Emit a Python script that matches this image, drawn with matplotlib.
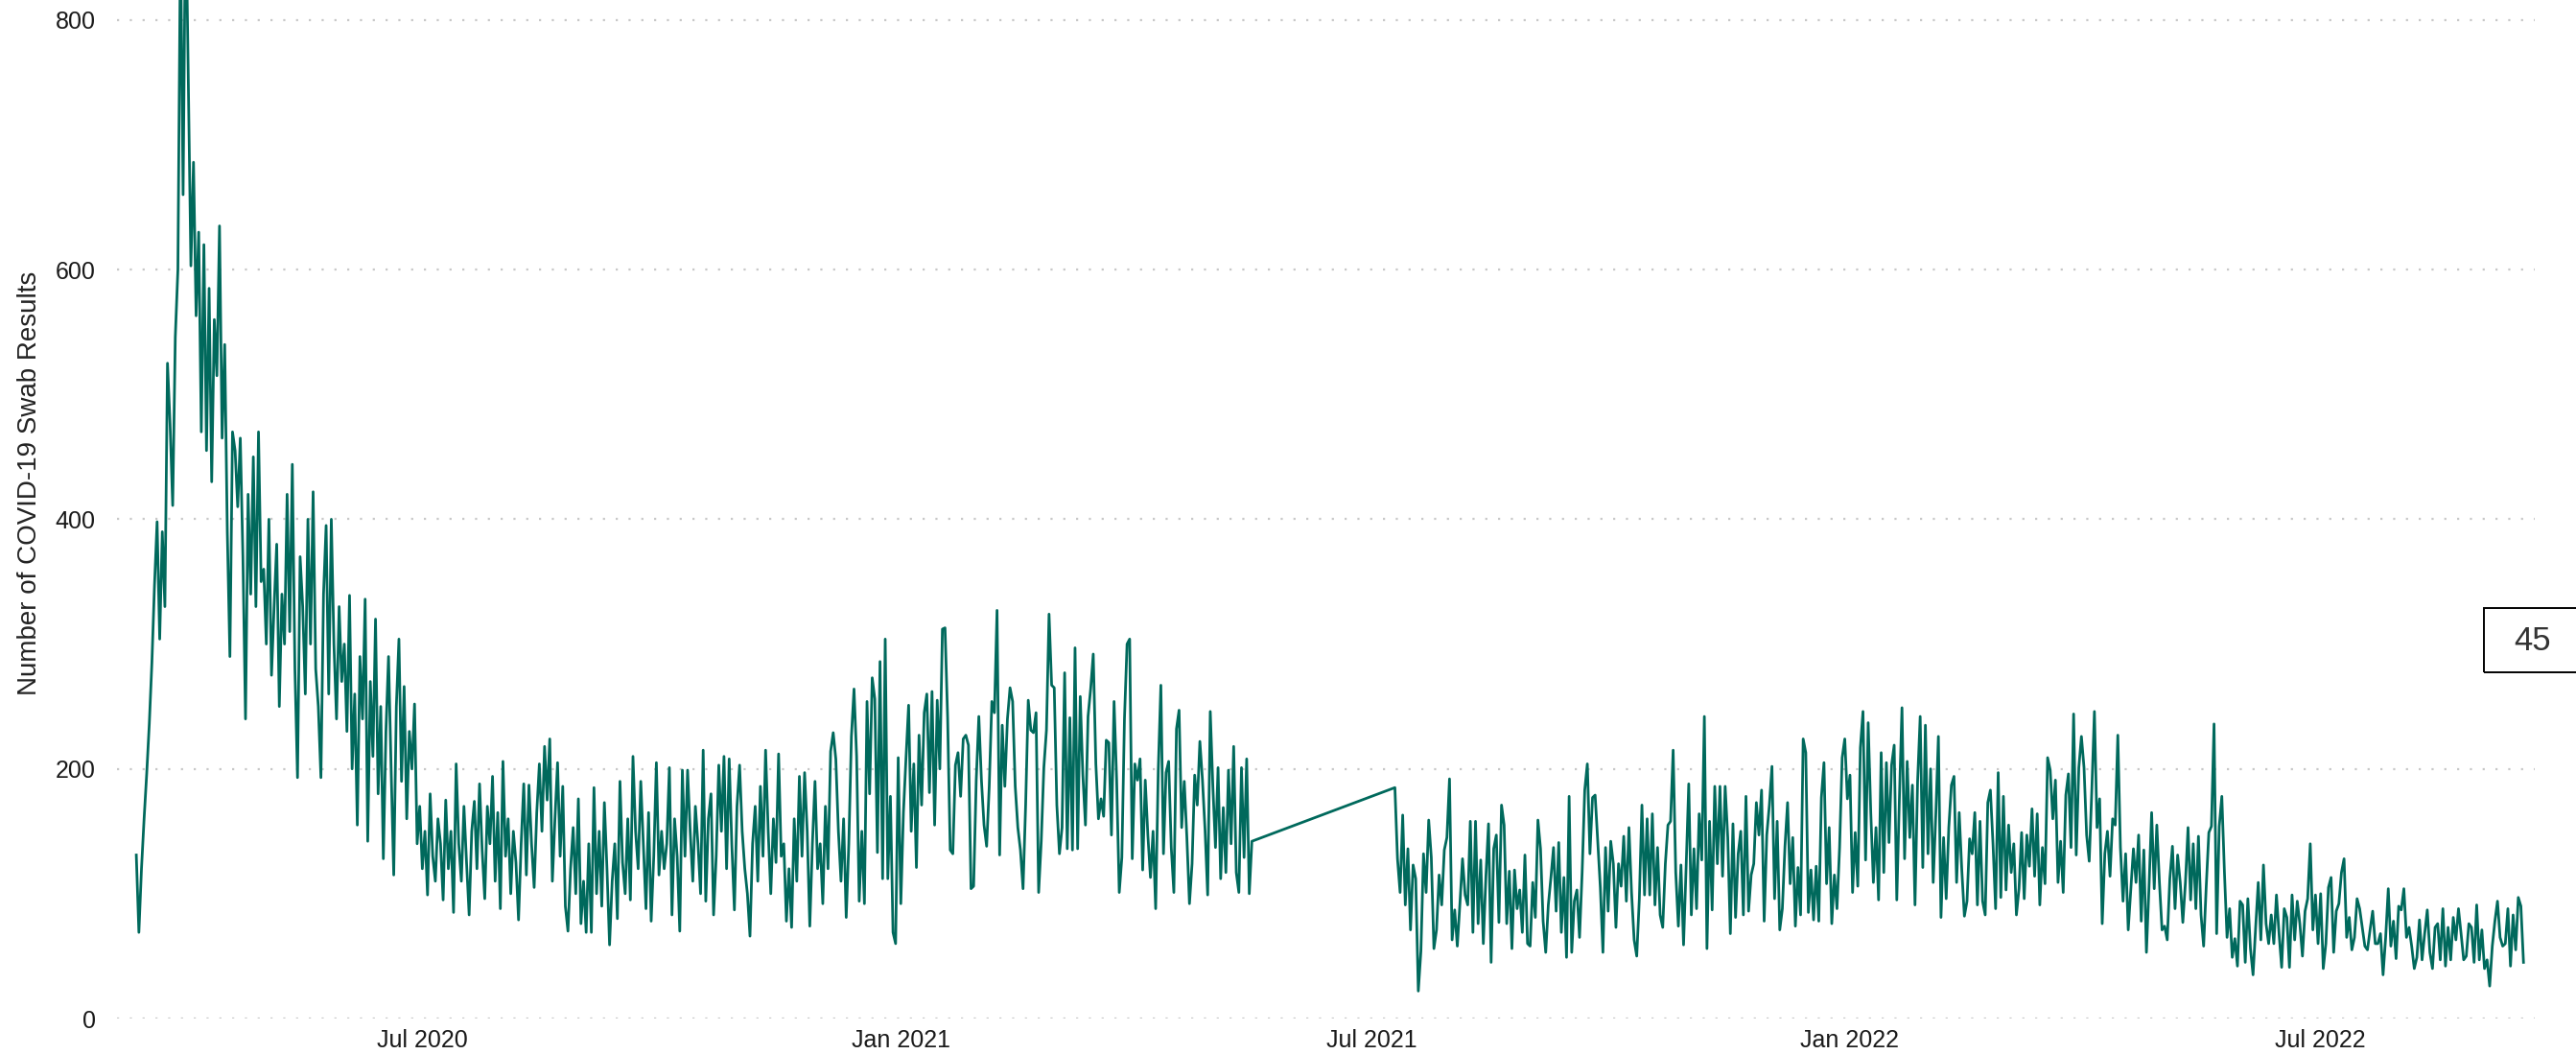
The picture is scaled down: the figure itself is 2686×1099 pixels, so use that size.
import matplotlib
matplotlib.use("Agg")
import matplotlib.pyplot as plt
import matplotlib.dates as mdates
from matplotlib.patches import Rectangle
import pandas as pd

# daily swab results, first run: 13 Mar 2020 - 16 May 2021
mar20 = [131, 69, 120, 160, 196, 236, 285, 347, 398, 304, 390, 330, 525, 476, 411, 546, 600, 870, 660]
apr20 = [900, 754, 603, 686, 563, 630, 470, 620, 455, 585, 430, 560, 515, 635, 465,
         540, 390, 290, 470, 455, 410, 465, 370, 240, 420, 340, 450, 330, 470, 350]
may20 = [360, 300, 400, 275, 330, 380, 250, 340, 300, 420, 310, 444, 280, 193, 370, 330,
         260, 400, 300, 422, 280, 250, 193, 340, 395, 260, 400, 300, 240, 330, 270]
jun20 = [300, 230, 339, 200, 260, 155, 290, 240, 336, 142, 270, 210, 320, 180, 250,
         128, 230, 290, 200, 115, 250, 304, 190, 266, 160, 230, 200, 252, 140, 170]
jul20 = [120, 150, 99, 180, 130, 110, 160, 140, 95, 175, 120, 150, 85, 204, 140, 110,
         170, 125, 83, 150, 174, 120, 188, 135, 96, 170, 140, 194, 110, 165, 88]
aug20 = [206, 130, 160, 100, 150, 125, 79, 140, 188, 115, 187, 140, 105, 165, 204, 150,
         218, 175, 224, 110, 160, 205, 130, 186, 90, 70, 120, 153, 100, 176, 76]
sep20 = [110, 69, 140, 69, 185, 100, 150, 90, 173, 120, 59, 110, 140, 80, 190,
         125, 100, 160, 95, 210, 150, 120, 190, 140, 88, 165, 78, 130, 205, 115]
oct20 = [150, 120, 140, 201, 83, 160, 130, 70, 199, 130, 199, 150, 110, 170, 140, 100,
         215, 94, 160, 180, 83, 130, 203, 150, 210, 120, 208, 140, 87, 170, 203]
nov20 = [150, 120, 100, 66, 140, 170, 110, 186, 130, 215, 150, 100, 160, 125, 212,
         130, 140, 78, 120, 73, 160, 110, 194, 130, 197, 150, 74, 140, 190, 120]
dec20 = [140, 92, 170, 120, 214, 229, 208, 150, 110, 160, 81, 140, 226, 264, 210, 94,
         150, 92, 254, 180, 273, 256, 133, 286, 112, 304, 112, 178, 69, 60, 209]
jan21 = [92, 165, 209, 251, 150, 204, 121, 227, 171, 245, 260, 181, 262, 155, 255, 200,
         312, 313, 241, 135, 132, 203, 213, 178, 224, 227, 219, 104, 106, 191, 242]
feb21 = [191, 155, 138, 186, 254, 245, 327, 131, 235, 186, 240, 265, 254, 186,
         153, 135, 104, 171, 255, 231, 229, 245, 101, 142, 201, 231, 324, 267]
mar21 = [265, 171, 132, 153, 277, 136, 241, 135, 297, 136, 258, 195, 155, 242, 264, 292,
         204, 160, 176, 162, 223, 221, 147, 254, 191, 101, 129, 240, 300, 304, 128]
apr21 = [204, 191, 208, 119, 191, 147, 113, 150, 88, 199, 267, 132, 197, 206, 137,
         101, 232, 247, 153, 190, 145, 92, 124, 195, 171, 222, 191, 151, 99, 246]
may21 = [186, 137, 201, 112, 169, 117, 199, 140, 218, 117, 101, 201, 129, 208, 100, 142]

# second run: 10 Jul 2021 - 17 Sep 2022
jul21 = [185, 128, 101, 163, 91, 136, 71, 123, 112, 22, 54, 132, 101, 159, 129, 56,
         71, 115, 91, 135, 145, 192]
aug21 = [63, 87, 58, 92, 128, 99, 91, 158, 69, 158, 76, 127, 60, 114, 156, 45,
         136, 147, 77, 171, 155, 76, 118, 56, 119, 88, 103, 69, 131, 60, 58]
sep21 = [109, 81, 159, 136, 78, 53, 91, 113, 137, 86, 141, 69, 113, 49, 178,
         53, 94, 103, 65, 117, 183, 204, 132, 177, 179, 142, 105, 53, 137, 86]
oct21 = [142, 124, 73, 124, 106, 146, 94, 153, 101, 63, 50, 96, 171, 99, 160, 99,
         164, 91, 137, 83, 73, 124, 155, 158, 215, 117, 74, 123, 59, 122, 188]
nov21 = [83, 136, 88, 164, 127, 242, 56, 158, 87, 186, 124, 186, 114, 186, 145,
         68, 156, 81, 132, 150, 83, 178, 86, 115, 124, 173, 147, 183, 78, 147]
dec21 = [171, 202, 96, 158, 71, 88, 138, 173, 108, 145, 74, 121, 83, 224, 213, 85,
         119, 79, 122, 78, 177, 205, 108, 153, 76, 115, 88, 137, 209, 224, 176]
jan22 = [195, 101, 149, 106, 217, 246, 127, 237, 165, 109, 153, 95, 213, 117, 205, 141,
         203, 219, 95, 176, 249, 128, 206, 145, 187, 91, 190, 242, 121, 235, 132]
feb22 = [200, 109, 163, 226, 81, 145, 96, 153, 187, 194, 109, 165, 119, 82,
         94, 144, 132, 165, 91, 158, 94, 83, 173, 183, 140, 88, 197, 97]
mar22 = [178, 103, 155, 117, 140, 83, 104, 149, 96, 147, 122, 168, 114, 164, 91, 137,
         108, 209, 199, 160, 191, 109, 142, 101, 179, 196, 137, 244, 131, 201, 226]
apr22 = [201, 147, 126, 183, 246, 153, 176, 76, 132, 150, 114, 160, 155, 227, 137,
         94, 132, 71, 104, 136, 109, 147, 78, 135, 53, 106, 165, 104, 155, 109]
may22 = [71, 74, 63, 112, 138, 88, 131, 109, 77, 109, 153, 95, 140, 88, 146, 83,
         58, 106, 149, 154, 236, 68, 154, 178, 117, 65, 88, 49, 64, 42, 94]
jun22 = [91, 45, 96, 56, 35, 73, 109, 63, 123, 76, 60, 83, 60, 99, 68,
         41, 88, 81, 41, 99, 63, 94, 76, 50, 86, 96, 140, 71, 99, 60]
jul22 = [100, 40, 60, 105, 113, 53, 86, 92, 117, 128, 65, 81, 55, 65, 96, 88,
         73, 58, 55, 71, 86, 60, 60, 68, 35, 65, 104, 58, 78, 48, 90]
aug22 = [87, 104, 65, 73, 58, 40, 49, 79, 47, 68, 87, 53, 40, 73, 76, 47,
         88, 42, 73, 47, 81, 63, 88, 68, 47, 50, 76, 73, 45, 91, 47]
sep22 = [71, 40, 47, 26, 58, 78, 94, 65, 58, 60, 88, 42, 83, 55, 97, 90, 45]

yticks = [0, 200, 400, 600, 800]
last_label = "45"

part1 = (mar20 + apr20 + may20 + jun20 + jul20 + aug20 + sep20 + oct20 + nov20
         + dec20 + jan21 + feb21 + mar21 + apr21 + may21)
part2 = (jul21 + aug21 + sep21 + oct21 + nov21 + dec21 + jan22 + feb22 + mar22
         + apr22 + may22 + jun22 + jul22 + aug22 + sep22)
dates = pd.date_range("2020-03-13", periods=len(part1), freq="D").append(
    pd.date_range("2021-07-10", periods=len(part2), freq="D"))
counts = part1 + part2

plt.rcParams['font.family'] = ['Liberation Sans', 'DejaVu Sans']

fig = plt.figure(figsize=(13.43, 5.495), dpi=200)
ax = fig.add_axes([122 / 2686, 37 / 1099, 2521 / 2686, 1062 / 1099])

ax.plot(dates, counts, color='#00695C', lw=1.0, zorder=3)

ax.set_ylim(0, 816)
ax.set_xlim(pd.Timestamp("2020-03-05 14:00"), pd.Timestamp("2022-09-21 08:00"))
ax.set_yticks(yticks)
ax.xaxis.set_major_locator(mdates.MonthLocator(bymonth=[1, 7]))
ax.xaxis.set_major_formatter(mdates.DateFormatter('%b %Y'))

ax.yaxis.grid(True, color='#c8c8c8', linestyle=(0, (1, 5)), linewidth=0.8)
ax.xaxis.grid(False)
ax.set_axisbelow(True)
for s in ax.spines.values():
    s.set_visible(False)
ax.tick_params(axis='both', length=0, labelsize=9, colors='#1a1a1a')
ax.tick_params(axis='y', pad=8)
ax.tick_params(axis='x', pad=4)

ax.set_ylabel('Number of COVID-19 Swab Results', fontsize=10, color='#222222')
ax.yaxis.set_label_coords(-0.031, 0.526)

# value box on the right edge
fig.add_artist(Rectangle((2590 / 2686, 0.362), 0.06, 0.061, transform=fig.transFigure,
                         fill=False, edgecolor='black', lw=0.7))
fig.text(2641 / 2686, 0.392, last_label, ha='center', va='center',
         fontsize=12.5, color='#333333')

fig.savefig('out.png', dpi=200)
